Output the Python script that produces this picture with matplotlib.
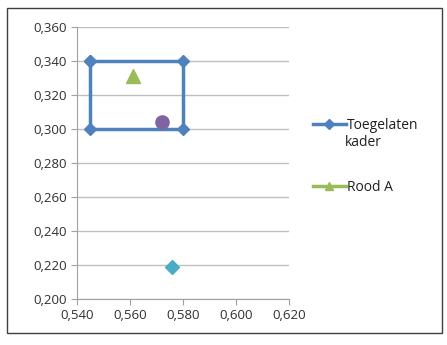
import matplotlib.pyplot as plt
from matplotlib.patches import Rectangle
from matplotlib.lines import Line2D

# data
kader_x = [0.545, 0.580, 0.580, 0.545, 0.545]
kader_y = [0.340, 0.340, 0.300, 0.300, 0.340]
rood_x = [0.561]
rood_y = [0.331]
paars_x = [0.572]
paars_y = [0.304]
cyaan_x = [0.576]
cyaan_y = [0.219]
x_ticks = [0.540, 0.560, 0.580, 0.600, 0.620]
y_ticks = [0.200, 0.220, 0.240, 0.260, 0.280, 0.300, 0.320, 0.340, 0.360]

blue = '#4F81BD'
green = '#9BBB59'

dpi = 100
fig = plt.figure(figsize=(4.47, 3.45), dpi=dpi)
plt.rcParams['font.family'] = ['Open Sans', 'DejaVu Sans']

# outer chart border
fig.patches.append(Rectangle((7 / 447, 12 / 345), 435 / 447, 325 / 345,
                             transform=fig.transFigure, fill=False,
                             edgecolor='#404040', linewidth=1.0))

ax = fig.add_axes([77 / 447, 46 / 345, 212 / 447, 272 / 345])

ax.plot(kader_x, kader_y, color=blue, linewidth=2.5, marker='D',
        markersize=6.5, zorder=3)
ax.plot(rood_x, rood_y, color=green, marker='^', markersize=10,
        linestyle='none', zorder=3)
ax.plot(paars_x, paars_y, color='#8064A2', marker='o', markersize=9.5,
        linestyle='none', zorder=3)
ax.plot(cyaan_x, cyaan_y, color='#4BACC6', marker='D', markersize=7,
        linestyle='none', zorder=3)

ax.set_xlim(0.540, 0.620)
ax.set_ylim(0.200, 0.360)
ax.set_xticks(x_ticks)
ax.set_yticks(y_ticks)
ax.set_xticklabels([f'{v:.3f}'.replace('.', ',') for v in x_ticks])
ax.set_yticklabels([f'{v:.3f}'.replace('.', ',') for v in y_ticks])
ax.yaxis.grid(True, color='#BFBFBF', linewidth=1)
ax.set_axisbelow(True)
for s in ['top', 'right']:
    ax.spines[s].set_visible(False)
for s in ['left', 'bottom']:
    ax.spines[s].set_color('#A0A0A0')
ax.tick_params(axis='both', colors='#A0A0A0', labelcolor='#303030',
               labelsize=9.5, length=4, direction='out')

# legend: line with marker, label on two lines for the frame
h_kader = Line2D([], [], color=blue, linewidth=2.5, marker='D', markersize=5)
h_rood = Line2D([], [], color=green, linewidth=2.5, marker='^', markersize=6)
fig.legend(handles=[h_kader], labels=['Toegelaten'],
           loc='center left', bbox_to_anchor=(300 / 447, 1 - 125 / 345),
           frameon=False, fontsize=10, handlelength=2.4, handletextpad=0.1,
           labelcolor='#202020')
fig.text(345 / 447, 1 - 143 / 345, 'kader', fontsize=10, color='#202020',
         va='center', ha='left')
fig.legend(handles=[h_rood], labels=['Rood A'],
           loc='center left', bbox_to_anchor=(300 / 447, 1 - 187 / 345),
           frameon=False, fontsize=10, handlelength=2.4, handletextpad=0.1,
           labelcolor='#202020')

fig.savefig('out.png', dpi=dpi)
